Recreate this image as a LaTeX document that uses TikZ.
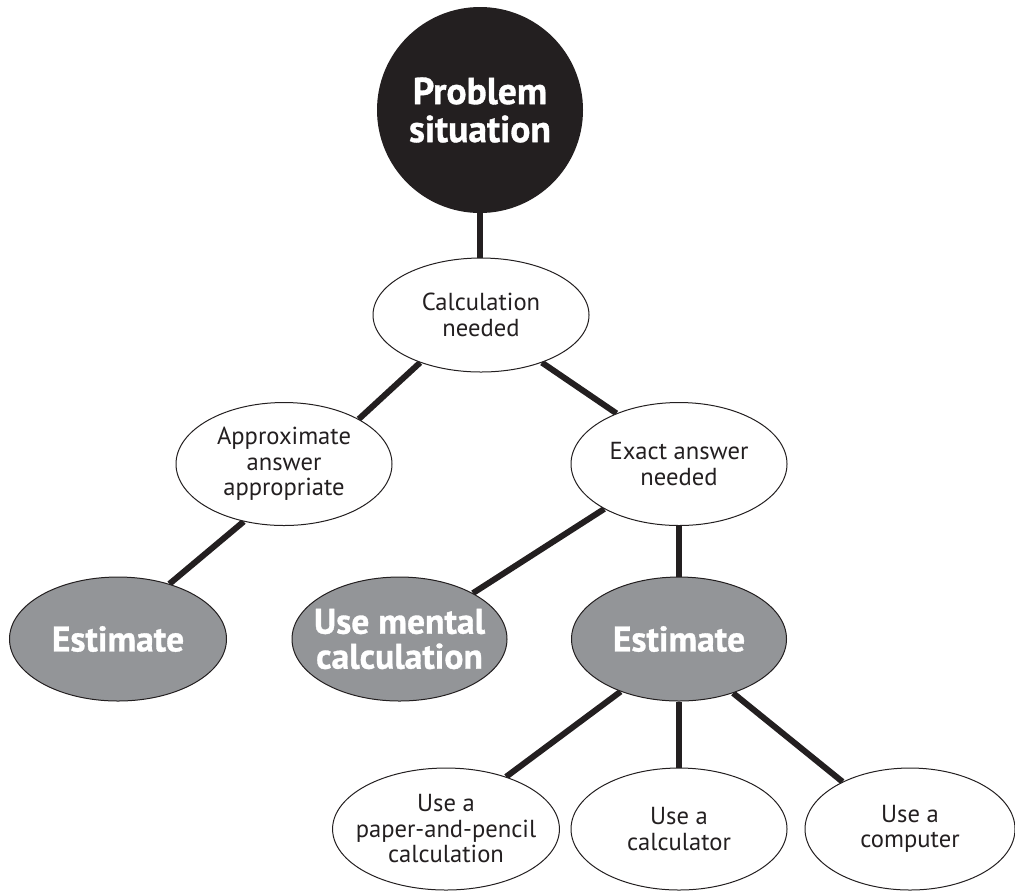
\documentclass[tikz,border=0pt]{standalone}
\usepackage{fontspec}
\setmainfont{PT Sans}
\newfontfamily\heavyfont{PT Sans}[BoldFeatures={FakeBold=0.9}]
\usetikzlibrary{shapes.geometric}
\definecolor{ink}{HTML}{231F20}
\definecolor{midgray}{HTML}{939598}
\begin{document}
\begin{tikzpicture}[x=0.5pt,y=-0.5pt,
  oval/.style={ellipse, draw=ink, line width=0.5pt, fill=white,
    inner xsep=-5pt, inner ysep=0pt,
    minimum width=108pt, minimum height=61pt, align=center, text=ink,
    font=\fontsize{12.3}{12.75}\selectfont},
  grayoval/.style={ellipse, draw=ink, line width=0.5pt, fill=midgray,
    inner xsep=-6pt, inner ysep=0pt,
    minimum width=108pt, minimum height=62pt, align=center, text=white,
    font=\heavyfont\bfseries\fontsize{17.8}{17.5}\selectfont},
  topdisc/.style={circle, fill=ink, inner sep=0pt, minimum size=103pt,
    align=center, text=white, font=\heavyfont\bfseries\fontsize{18.8}{19}\selectfont},
  ghost/.style={opacity=0},
  link/.style={draw=ink, line width=3pt}]
\useasboundingbox (0,0) rectangle (1015,890);

% centres of the nodes
\coordinate (cP) at (480,110);
\coordinate (cCalc) at (481,315);
\coordinate (cApprox) at (284,464);
\coordinate (cExact) at (679,464);
\coordinate (cEst1) at (118,639);
\coordinate (cMental) at (399.5,639);
\coordinate (cEst2) at (679,639);
\coordinate (cPaper) at (446,829);
\coordinate (cCalcr) at (679,829);
\coordinate (cComp) at (910,829);

% invisible copies of the nodes, so the links can use their anchors
\begin{scope}[every node/.append style={ghost}]
  \node[topdisc] (p0) at (cP) {Problem\\situation};
  \node[oval, minimum height=57pt] (calc0) at (cCalc) {Calculation\\needed};
  \node[oval, minimum height=61.5pt] (approx0) at (cApprox) {Approximate\\answer\\appropriate};
  \node[oval, minimum height=61.5pt] (exact0) at (cExact) {Exact answer\\needed};
  \node[grayoval, minimum width=108.5pt] (est10) at (cEst1) {Estimate};
  \node[grayoval, minimum width=107.5pt] (mental0) at (cMental) {Use mental\\calculation};
  \node[grayoval, minimum width=107.5pt] (est20) at (cEst2) {Estimate};
  \node[oval, minimum width=107pt] (paper0) at (cPaper) {Use a\\paper-and-pencil\\calculation};
  \node[oval] (calcr0) at (cCalcr) {Use a\\calculator};
  \node[oval, minimum width=105pt] (comp0) at (cComp) {Use a\\computer};
\end{scope}

% links, drawn first so the ovals cover their ends
\draw[link] (p0.south) -- (p0.south |- calc0.north);
\draw[link] (calc0.218) -- (approx0.31);
\draw[link] (calc0.322) -- (exact0.141);
\draw[link] (approx0.235) -- (est10.47);
\draw[link] (exact0.211) -- (mental0.32);
\draw[link] (exact0.south) -- (est20.north);
\draw[link] (est20.222) -- (paper0.41);
\draw[link] (est20.south) -- (calcr0.north);
\draw[link] (est20.315) -- (comp0.145);

% visible nodes on top
\node[topdisc] (p) at (cP) {Problem\\situation};
\node[oval, minimum height=57pt] (calc) at (cCalc) {Calculation\\needed};
\node[oval, minimum height=61.5pt] (approx) at (cApprox) {Approximate\\answer\\appropriate};
\node[oval, minimum height=61.5pt] (exact) at (cExact) {Exact answer\\needed};
\node[grayoval, minimum width=108.5pt] (est1) at (cEst1) {Estimate};
\node[grayoval, minimum width=107.5pt] (mental) at (cMental) {Use mental\\calculation};
\node[grayoval, minimum width=107.5pt] (est2) at (cEst2) {Estimate};
\node[oval, minimum width=107pt] (paper) at (cPaper) {Use a\\paper-and-pencil\\calculation};
\node[oval] (calcr) at (cCalcr) {Use a\\calculator};
\node[oval, minimum width=105pt] (comp) at (cComp) {Use a\\computer};
\end{tikzpicture}
\end{document}
